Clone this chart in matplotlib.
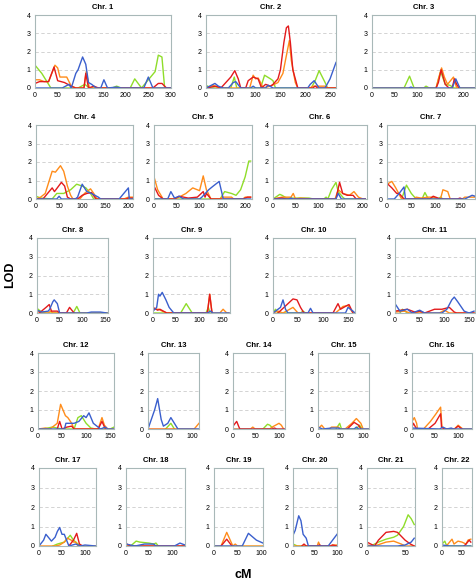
import matplotlib
matplotlib.use("Agg")
import matplotlib.pyplot as plt

# LOD curves per chromosome as (cM, LOD) points
chr1 = {
    "green": [(0, 1.25), (15, 0.8), (25, 0.4), (35, 0), (95, 0), (110, 0.2), (120, 0), (170, 0), (180, 0.1), (190, 0),
              (210, 0), (220, 0.5), (235, 0), (255, 0.6), (265, 0.9), (272, 1.8), (280, 1.7), (286, 0), (300, 0)],
    "orange": [(0, 0.45), (10, 0.45), (20, 0.35), (30, 0.35), (44, 1.25), (50, 1.1), (55, 0.6), (70, 0.6), (80, 0.1),
               (90, 0), (108, 0), (113, 0.9), (120, 0), (300, 0)],
    "red": [(0, 0.25), (10, 0.35), (30, 0.35), (42, 1.15), (50, 0.4), (65, 0.3), (80, 0.1), (90, 0), (108, 0),
            (112, 0.8), (118, 0), (130, 0.1), (140, 0), (260, 0), (272, 0.25), (280, 0.25), (290, 0), (300, 0)],
    "blue": [(0, 0), (60, 0), (75, 0.2), (80, 0), (90, 0.8), (95, 1.0), (105, 1.7), (112, 1.3), (118, 0.3), (125, 0.2),
             (135, 0), (145, 0), (152, 0.45), (160, 0), (180, 0.05), (190, 0), (240, 0), (250, 0.6), (260, 0), (300, 0)],
}
chr2 = {
    "red": [(0, 0), (20, 0.1), (30, 0), (40, 0.3), (50, 0.6), (58, 0.95), (65, 0.5), (70, 0), (80, 0), (85, 0.4),
            (95, 0.6), (105, 0.5), (112, 0), (120, 0.2), (130, 0.1), (135, 0.2), (145, 0.5), (150, 1.0), (157, 2.5),
            (162, 3.3), (166, 3.4), (170, 2.5), (175, 1.0), (185, 0), (215, 0), (220, 0.1), (225, 0), (262, 0)],
    "orange": [(0, 0), (15, 0.15), (25, 0), (88, 0), (95, 0.7), (100, 0.5), (105, 0.55), (110, 0.3), (115, 0),
               (130, 0.1), (145, 0.3), (155, 0.8), (160, 1.5), (168, 2.6), (172, 1.5), (180, 0.3), (185, 0), (210, 0),
               (215, 0.1), (240, 0.1), (245, 0), (262, 0)],
    "green": [(0, 0.15), (10, 0), (50, 0), (57, 0.6), (62, 0), (110, 0), (118, 0.7), (130, 0.5), (135, 0.4), (140, 0),
              (212, 0), (220, 0.4), (228, 0.95), (240, 0.3), (245, 0), (262, 0)],
    "blue": [(0, 0), (18, 0.25), (25, 0.1), (35, 0), (45, 0), (55, 0.3), (60, 0.35), (70, 0), (90, 0), (95, 0.1),
             (100, 0), (120, 0), (125, 0.15), (135, 0), (205, 0), (210, 0.2), (218, 0.4), (228, 0), (240, 0),
             (250, 0.5), (262, 1.4)],
}
chr3 = {
    "green": [(0, 0), (70, 0), (82, 0.65), (92, 0), (113, 0), (118, 0.1), (125, 0), (140, 0), (150, 0.9), (160, 0.2),
              (170, 0.15), (180, 0), (225, 0)],
    "orange": [(0, 0), (140, 0), (145, 0.5), (152, 1.1), (158, 0.6), (165, 0.2), (178, 0.6), (185, 0), (225, 0)],
    "red": [(140, 0), (145, 0.3), (151, 1.0), (160, 0.2), (168, 0), (175, 0), (180, 0.5), (185, 0.2), (190, 0)],
    "blue": [(0, 0), (80, 0), (85, 0.05), (90, 0), (175, 0), (183, 0.5), (192, 0), (225, 0)],
}
chr4 = {
    "orange": [(0, 0), (10, 0.1), (20, 0.3), (35, 1.5), (42, 1.45), (53, 1.8), (60, 1.5), (68, 0.7), (75, 0.2),
               (80, 0), (95, 0), (105, 0.3), (118, 0.55), (125, 0.3), (132, 0), (190, 0), (200, 0.1), (210, 0.1)],
    "red": [(0, 0), (15, 0), (35, 0.6), (40, 0.4), (55, 0.9), (62, 0.7), (68, 0.1), (75, 0), (90, 0), (100, 0.2),
            (110, 0.3), (120, 0.35), (130, 0), (195, 0), (200, 0.05), (210, 0.05)],
    "green": [(0, 0.15), (10, 0.05), (35, 0), (45, 0.3), (60, 0.3), (75, 0.5), (88, 0.8), (100, 0.7), (108, 0.6),
              (118, 0.3), (125, 0), (210, 0)],
    "blue": [(0, 0), (45, 0), (50, 0.15), (55, 0), (85, 0), (90, 0.1), (100, 0.8), (110, 0.4), (120, 0.3),
             (135, 0.1), (140, 0), (180, 0), (200, 0.6), (202, 0), (210, 0)],
}
chr5 = {
    "orange": [(0, 1.2), (8, 0.5), (20, 0), (45, 0), (55, 0.1), (70, 0.3), (85, 0.6), (100, 0.45), (108, 1.25),
               (115, 0.5), (125, 0), (145, 0), (150, 0.1), (170, 0.1), (175, 0), (195, 0), (200, 0.1), (212, 0.1)],
    "red": [(0, 0.7), (10, 0.2), (20, 0), (45, 0), (55, 0.15), (65, 0.1), (75, 0.05), (95, 0.1), (108, 0.4),
            (112, 0.1), (115, 0.3), (125, 0), (195, 0), (205, 0.1), (212, 0.1)],
    "blue": [(0, 0), (30, 0), (37, 0.4), (45, 0.05), (55, 0.15), (65, 0), (100, 0), (105, 0.1), (120, 0.5),
             (130, 0.7), (143, 0.95), (152, 0), (212, 0)],
    "green": [(0, 0), (145, 0), (155, 0.4), (170, 0.3), (180, 0.2), (190, 0.5), (200, 1.2), (208, 2.05), (212, 2.05)],
}
chr6 = {
    "green": [(0, 0), (15, 0.25), (20, 0.2), (30, 0.05), (80, 0.05), (90, 0), (113, 0), (118, 0.1), (122, 0),
              (130, 0.5), (140, 0.9), (145, 0.4), (155, 0.1), (160, 0), (205, 0)],
    "orange": [(0, 0), (20, 0.1), (40, 0.1), (45, 0.3), (50, 0), (60, 0.05), (90, 0), (138, 0), (145, 0.5),
               (155, 0.3), (170, 0.2), (180, 0.4), (190, 0.1), (200, 0), (205, 0)],
    "red": [(0, 0), (20, 0.05), (30, 0), (140, 0), (148, 0.9), (155, 0.3), (165, 0.2), (178, 0.2), (185, 0), (205, 0)],
    "blue": [(0, 0), (35, 0), (40, 0.05), (45, 0), (140, 0), (145, 0.3), (152, 0), (205, 0)],
}
chr7 = {
    "red": [(0, 0.85), (10, 0.6), (20, 0.3), (25, 0.3), (35, 0), (88, 0), (95, 0.15), (100, 0.1), (110, 0),
            (145, 0), (150, 0.05), (155, 0)],
    "orange": [(0, 0.8), (10, 0.95), (18, 0.6), (30, 0), (55, 0), (60, 0.1), (70, 0.05), (85, 0.1), (95, 0.1),
               (105, 0), (110, 0), (115, 0.5), (125, 0.4), (130, 0), (155, 0), (160, 0.1), (181, 0.1)],
    "blue": [(0, 0), (15, 0), (25, 0.3), (35, 0.65), (38, 0), (160, 0), (175, 0.2), (181, 0.15)],
    "green": [(30, 0), (40, 0.75), (50, 0.3), (60, 0), (72, 0), (78, 0.35), (85, 0), (105, 0), (110, 0.1), (115, 0)],
}
chr8 = {
    "blue": [(0, 0.15), (10, 0.05), (25, 0.1), (28, 0.2), (35, 0.6), (38, 0.7), (45, 0.5), (50, 0), (110, 0),
             (120, 0.05), (140, 0.05), (155, 0)],
    "red": [(5, 0), (20, 0.3), (27, 0.45), (32, 0.1), (45, 0.1), (50, 0), (65, 0), (72, 0.3), (82, 0)],
    "green": [(0, 0.25), (10, 0.05), (20, 0), (80, 0), (88, 0.35), (95, 0), (155, 0)],
    "orange": [(0, 0.1), (10, 0), (25, 0), (30, 0.1), (35, 0), (155, 0)],
}
chr9 = {
    "blue": [(0, 0.1), (8, 0.3), (12, 1.0), (15, 0.9), (20, 1.1), (28, 0.7), (35, 0.3), (45, 0), (118, 0),
             (125, 0.1), (130, 0), (165, 0)],
    "red": [(0, 0.3), (10, 0.15), (15, 0.2), (30, 0), (118, 0), (123, 1.0), (128, 0)],
    "orange": [(0, 0.2), (12, 0.2), (20, 0.1), (30, 0), (118, 0), (123, 1.0), (128, 0), (145, 0), (152, 0.2),
               (160, 0), (165, 0)],
    "green": [(0, 0), (60, 0), (72, 0.5), (85, 0), (115, 0), (120, 0.3), (124, 0)],
}
chr10 = {
    "blue": [(0, 0), (15, 0.3), (20, 0.7), (25, 0.2), (30, 0), (70, 0), (75, 0.25), (80, 0), (145, 0), (150, 0.3),
             (160, 0.1), (164, 0)],
    "red": [(10, 0), (30, 0.5), (40, 0.75), (48, 0.7), (55, 0.3), (62, 0), (120, 0), (130, 0.5), (135, 0.2),
            (148, 0.4), (152, 0.45), (160, 0)],
    "orange": [(0, 0), (10, 0.1), (20, 0), (40, 0.3), (50, 0), (125, 0), (140, 0.35), (150, 0.4), (155, 0.2),
               (160, 0), (164, 0)],
    "green": [(0, 0), (5, 0.2), (10, 0), (55, 0), (60, 0.1), (65, 0)],
}
chr11 = {
    "blue": [(0, 0.5), (10, 0.1), (25, 0.2), (35, 0), (50, 0.15), (60, 0), (95, 0), (105, 0.2), (115, 0.7),
             (120, 0.85), (127, 0.6), (140, 0.1), (150, 0), (160, 0.1)],
    "red": [(0, 0.1), (25, 0.2), (40, 0.05), (50, 0.1), (60, 0), (80, 0.2), (95, 0.2), (110, 0.3), (120, 0.05),
            (125, 0), (160, 0)],
    "orange": [(0, 0.05), (20, 0.1), (30, 0), (50, 0.05), (60, 0), (90, 0), (100, 0.15), (110, 0), (160, 0)],
    "green": [(10, 0), (15, 0.2), (25, 0)],
}
chr12 = {
    "orange": [(0, 0), (15, 0.05), (25, 0), (40, 0.3), (47, 1.3), (52, 1.0), (57, 0.7), (62, 0.6), (70, 0.3),
               (75, 0), (125, 0), (133, 0.6), (138, 0.2), (145, 0), (158, 0)],
    "red": [(40, 0), (45, 0.4), (50, 0), (60, 0.1), (70, 0.15), (75, 0), (125, 0), (133, 0.4), (140, 0)],
    "green": [(0, 0), (10, 0), (20, 0.05), (30, 0.1), (40, 0.05), (50, 0), (75, 0), (83, 0.6), (90, 0.7),
              (95, 0.5), (100, 0.3), (110, 0.05), (120, 0), (150, 0), (158, 0.1)],
    "blue": [(0, 0), (55, 0), (58, 0.3), (75, 0.3), (85, 0.4), (95, 0.7), (100, 0.6), (106, 0.85), (115, 0.3),
             (125, 0.1), (130, 0), (140, 0.1), (145, 0), (158, 0)],
}
chr13 = {
    "blue": [(0, 0), (15, 1.0), (22, 1.6), (30, 0.5), (35, 0.15), (45, 0.3), (52, 0.6), (60, 0.3), (68, 0),
             (116, 0)],
    "green": [(40, 0), (52, 0.3), (60, 0)],
    "orange": [(0, 0), (105, 0), (116, 0.3)],
    "red": [(0, 0), (116, 0)],
}
chr14 = {
    "red": [(0, 0.15), (8, 0.4), (13, 0.1), (15, 0), (85, 0), (90, 0.05), (95, 0), (113, 0)],
    "orange": [(0, 0), (38, 0), (43, 0.1), (48, 0), (80, 0), (85, 0.1), (100, 0.3), (105, 0.2), (110, 0)],
    "green": [(65, 0), (75, 0.25), (80, 0.2), (88, 0)],
    "blue": [(0, 0), (113, 0)],
}
chr15 = {
    "blue": [(0, 0.1), (10, 0), (30, 0.05), (45, 0.05), (50, 0), (80, 0), (85, 0.1), (90, 0), (113, 0)],
    "orange": [(0, 0), (8, 0.2), (15, 0), (25, 0), (30, 0.1), (45, 0.1), (50, 0), (60, 0), (75, 0.3), (85, 0.55),
               (95, 0.3), (100, 0), (113, 0)],
    "red": [(65, 0), (80, 0.35), (90, 0.2), (95, 0)],
    "green": [(40, 0), (48, 0.3), (52, 0), (85, 0), (92, 0.2), (98, 0)],
}
chr16 = {
    "orange": [(0, 0.4), (5, 0.6), (10, 0.3), (12, 0), (25, 0), (40, 0.4), (52, 0.8), (62, 1.15), (65, 0.1),
               (70, 0), (92, 0), (100, 0.2), (110, 0), (130, 0)],
    "red": [(0, 0.1), (3, 0.3), (10, 0), (35, 0), (50, 0.3), (62, 0.8), (64, 0.1), (70, 0), (92, 0), (100, 0.15),
            (108, 0)],
    "blue": [(0, 0.05), (60, 0), (67, 0.1), (75, 0), (85, 0.05), (90, 0), (130, 0)],
    "green": [(0, 0), (130, 0)],
}
chr17 = {
    "blue": [(0, 0), (10, 0.3), (15, 0.6), (22, 0.4), (27, 0.25), (35, 0.45), (40, 0.75), (45, 0.95), (50, 0.6),
             (55, 0.6), (60, 0.3), (65, 0), (80, 0.1), (90, 0), (100, 0.05), (124, 0)],
    "orange": [(0, 0), (35, 0), (45, 0.05), (55, 0.2), (62, 0.4), (70, 0.3), (75, 0.2), (80, 0.2), (85, 0),
               (124, 0)],
    "red": [(65, 0), (75, 0.3), (82, 0.65), (88, 0.1), (95, 0)],
    "green": [(30, 0), (40, 0.1), (55, 0.2), (68, 0.55), (75, 0.3), (85, 0.1), (90, 0)],
}
chr18 = {
    "green": [(10, 0), (22, 0.25), (30, 0.2), (50, 0.15), (60, 0.1), (65, 0.15), (70, 0)],
    "blue": [(0, 0.1), (10, 0.05), (20, 0), (40, 0.1), (60, 0.1), (65, 0), (105, 0), (117, 0.15), (128, 0.05)],
    "red": [(0, 0), (2, 0.1), (10, 0), (128, 0)],
    "orange": [(0, 0.05), (10, 0), (120, 0), (128, 0.05)],
}
chr19 = {
    "orange": [(0, 0), (15, 0), (27, 0.7), (40, 0), (45, 0.1), (50, 0), (104, 0)],
    "red": [(15, 0), (27, 0.35), (38, 0)],
    "blue": [(0, 0), (60, 0), (73, 0.65), (90, 0.3), (104, 0.15)],
    "green": [(0, 0), (104, 0)],
}
chr20 = {
    "blue": [(0, 0.55), (5, 0.8), (13, 1.55), (18, 1.3), (23, 0.6), (30, 0.4), (35, 0), (80, 0), (100, 0.6)],
    "green": [(0, 0.1), (10, 0), (100, 0)],
    "red": [(20, 0), (25, 0.1), (30, 0), (55, 0), (60, 0.05), (65, 0), (85, 0), (90, 0.05), (100, 0)],
    "orange": [(0, 0), (55, 0), (58, 0.2), (62, 0), (85, 0), (90, 0.05), (100, 0.05)],
}
chr21 = {
    "red": [(0, 0.2), (5, 0.1), (10, 0), (15, 0.3), (25, 0.7), (35, 0.75), (40, 0.7), (45, 0.5), (50, 0.3),
            (57, 0.1), (62, 0)],
    "green": [(0, 0), (5, 0), (15, 0.2), (25, 0.35), (35, 0.45), (40, 0.55), (48, 1.0), (54, 1.6), (58, 1.4),
              (62, 1.1)],
    "orange": [(0, 0.05), (10, 0), (25, 0.2), (35, 0.25), (45, 0.1), (50, 0), (62, 0)],
    "blue": [(0, 0), (40, 0), (50, 0.05), (58, 0.2), (62, 0.4)],
}
chr22 = {
    "green": [(0, 0.1), (7, 0.25), (12, 0), (72, 0)],
    "orange": [(10, 0), (15, 0.1), (25, 0.35), (30, 0.1), (40, 0.25), (50, 0.2), (60, 0.1), (65, 0.3), (72, 0.35)],
    "blue": [(0, 0.05), (20, 0), (72, 0)],
    "red": [(55, 0), (60, 0.1), (68, 0.3), (72, 0.2)],
}

chromosomes = [chr1, chr2, chr3, chr4, chr5, chr6, chr7, chr8, chr9, chr10, chr11,
               chr12, chr13, chr14, chr15, chr16, chr17, chr18, chr19, chr20, chr21, chr22]
chr_length = [300, 262, 225, 210, 215, 209, 181, 157, 167, 164, 162,
              158, 116, 113, 113, 130, 124, 128, 104, 100, 63, 75]
x_ticks = [[0, 50, 100, 150, 200, 250, 300], [0, 50, 100, 150, 200, 250], [0, 50, 100, 150, 200],
           [0, 50, 100, 150, 200], [0, 50, 100, 150, 200], [0, 50, 100, 150, 200], [0, 50, 100, 150],
           [0, 50, 100, 150], [0, 50, 100, 150], [0, 50, 100, 150], [0, 50, 100, 150],
           [0, 50, 100, 150], [0, 50, 100], [0, 50, 100], [0, 50, 100], [0, 50, 100],
           [0, 50, 100], [0, 50, 100], [0, 50, 100], [0, 50, 100], [0, 50], [0, 50]]

colors = {"green": "#8fdd2a", "orange": "#ff8c1a", "red": "#e31a1c", "blue": "#3a5fcd"}

# panel boxes in pixels: left, right, top, bottom
W, H = 477, 582
boxes = [
    (35, 171, 15, 88), (206, 336, 15, 88), (372, 475, 15, 88),
    (36, 133, 125, 199), (154, 252, 125, 199), (273, 367, 125, 199), (387, 475, 125, 199),
    (37, 108, 238, 313), (153, 230, 238, 313), (273, 355, 238, 313), (395, 475, 238, 313),
    (38, 114, 353, 429), (148, 199, 353, 429), (233, 285, 353, 429), (318, 369, 353, 429), (412, 472, 353, 429),
    (39, 96, 468, 546), (126, 185, 468, 546), (214, 263, 468, 546), (293, 337, 468, 546), (367, 415, 468, 546),
    (442, 472, 468, 546),
]

fig = plt.figure(figsize=(W / 100, H / 100), dpi=100)
plt.rcParams['font.family'] = ['Liberation Sans', 'DejaVu Sans']

for i, data in enumerate(chromosomes):
    l, r, t, b = boxes[i]
    ax = fig.add_axes([l / W, 1 - b / H, (r - l) / W, (b - t) / H])
    for g in [1, 2, 3]:
        ax.axhline(g, color="#cccccc", lw=0.6, ls=(0, (4, 3)), zorder=0)
    for name in ["green", "orange", "red", "blue"]:
        pts = data[name]
        xs = [p[0] for p in pts]
        ys = [p[1] for p in pts]
        ax.plot(xs, ys, color=colors[name], lw=1.0, clip_on=True)
    ax.set_xlim(0, chr_length[i])
    ax.set_ylim(0, 4)
    ax.set_yticks([0, 1, 2, 3, 4])
    ax.set_xticks(x_ticks[i])
    ax.tick_params(length=0, labelsize=5, pad=3)
    for s in ax.spines.values():
        s.set_color("#a8b8b8")
        s.set_linewidth(0.8)
    ax.set_title("Chr. %d" % (i + 1), fontsize=5.5, fontweight="bold", pad=4)

fig.text(10 / W, 1 - 275 / H, "LOD", rotation=90, fontsize=9, fontweight="bold", ha="center", va="center")
fig.text(243 / W, 1 - 575 / H, "cM", fontsize=9, fontweight="bold", ha="center", va="center")

fig.savefig("out.png", dpi=100)
